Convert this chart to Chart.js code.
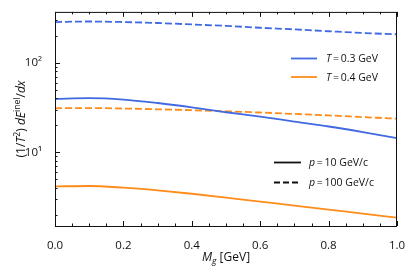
<!DOCTYPE html>
<html>
<head>
<meta charset="utf-8">
<script src="https://cdn.jsdelivr.net/npm/chart.js@4/dist/chart.umd.min.js"></script>
<style>
  html, body { margin: 0; padding: 0; background: #fff; }
  #wrap { width: 415px; height: 277px; }
</style>
</head>
<body>
<div id="wrap"><canvas id="chart" width="415" height="277"></canvas></div>
<script>
// gluon mass M_g (GeV)
const mg = [0.0, 0.1, 0.2, 0.3, 0.4, 0.5, 0.6, 0.7, 0.8, 0.9, 1.0];

// (1/T^2) dE/dx
const t03p10  = [39.5, 40.3, 38.8, 35.5, 31.8, 28.0, 25.0, 22.0, 19.4, 16.8, 14.4];
const t03p100 = [285, 289, 285, 278, 268, 258, 246, 236, 225, 215, 208];
const t04p10  = [4.15, 4.2, 4.02, 3.75, 3.44, 3.12, 2.81, 2.54, 2.29, 2.06, 1.86];
const t04p100 = [31.0, 31.2, 30.8, 30.2, 29.5, 28.7, 27.8, 26.8, 25.8, 24.7, 23.7];

const yTicks = [2, 3, 4, 5, 6, 7, 8, 9, 10, 20, 30, 40, 50, 60, 70, 80, 90, 100, 200, 300];
const yLabels = { 10: '10¹', 100: '10²' };
const xMajor = [0, 0.2, 0.4, 0.6, 0.8, 1.0];
const xMinor = [0.05, 0.1, 0.15, 0.25, 0.3, 0.35, 0.45, 0.5, 0.55, 0.65, 0.7, 0.75, 0.85, 0.9, 0.95];

const BLUE = '#4169e1';
const ORANGE = '#ff8c1a';
const FONT = '"Open Sans", "DejaVu Sans", sans-serif';

function pts(ys) {
    return mg.map((x, i) => ({ x: x, y: ys[i] }));
}

function line(ys, color, dashed) {
    return {
        data: pts(ys),
        borderColor: color,
        borderWidth: 1.8,
        borderDash: dashed ? [7, 3] : [],
        pointRadius: 0,
        fill: false,
        cubicInterpolationMode: 'monotone'
    };
}

// draw a run of text pieces (italic / superscript / subscript)
function drawRich(ctx, parts, x, y, size, align) {
    const fontOf = p => {
        const s = p.sup || p.sub ? size * 0.72 : size;
        return (p.i ? 'italic ' : '') + s + 'px ' + FONT;
    };
    let w = 0;
    parts.forEach(p => { ctx.font = fontOf(p); w += ctx.measureText(p.t).width; });
    let cx = align === 'center' ? x - w / 2 : x;
    ctx.textAlign = 'left';
    ctx.textBaseline = 'alphabetic';
    parts.forEach(p => {
        ctx.font = fontOf(p);
        let dy = 0;
        if (p.sup) dy = -size * 0.42;
        if (p.sub) dy = size * 0.25;
        ctx.fillText(p.t, cx, y + dy);
        cx += ctx.measureText(p.t).width;
    });
}

const decor = {
    id: 'decor',
    afterDraw(chart) {
        const ctx = chart.ctx;
        const a = chart.chartArea;
        const xs = chart.scales.x, ys = chart.scales.y;
        ctx.save();
        ctx.strokeStyle = '#111';
        ctx.lineWidth = 1;

        // frame
        ctx.strokeRect(a.left + 0.5, a.top + 0.5, a.right - a.left - 1, a.bottom - a.top);

        // inward ticks on bottom and top
        ctx.beginPath();
        xMajor.concat(xMinor).forEach(v => {
            const len = xMajor.includes(v) ? 5 : 2.5;
            const px = Math.round(xs.getPixelForValue(v)) + 0.5;
            ctx.moveTo(px, a.bottom); ctx.lineTo(px, a.bottom - len);
            ctx.moveTo(px, a.top); ctx.lineTo(px, a.top + len);
        });
        // inward ticks on the left
        yTicks.forEach(v => {
            const len = yLabels[v] ? 5 : 2.5;
            const py = Math.round(ys.getPixelForValue(v)) + 0.5;
            ctx.moveTo(a.left, py); ctx.lineTo(a.left + len, py);
        });
        ctx.stroke();

        ctx.fillStyle = '#111';

        // x title
        drawRich(ctx, [
            { t: 'M', i: true }, { t: 'g', i: true, sub: true }, { t: ' [GeV]' }
        ], (a.left + a.right) / 2, 261, 12, 'center');

        // y title
        ctx.save();
        ctx.translate(25, (a.top + a.bottom) / 2);
        ctx.rotate(-Math.PI / 2);
        drawRich(ctx, [
            { t: '(1/' }, { t: 'T', i: true }, { t: '2', sup: true }, { t: ') ' },
            { t: 'dE', i: true }, { t: 'inel', sup: true }, { t: '/' }, { t: 'dx', i: true }
        ], 0, 0, 12, 'center');
        ctx.restore();

        // legends
        const rows = [
            { y: 58.5, color: BLUE, dash: [], x0: 291, x1: 317, tx: 326, txt: [{ t: 'T', i: true }, { t: '\u2009=\u20090.3 GeV' }] },
            { y: 77, color: ORANGE, dash: [], x0: 291, x1: 317, tx: 326, txt: [{ t: 'T', i: true }, { t: '\u2009=\u20090.4 GeV' }] },
            { y: 162.5, color: '#111', dash: [], x0: 274, x1: 301, tx: 309, txt: [{ t: 'p', i: true }, { t: '\u2009=\u200910 GeV/c' }] },
            { y: 182.5, color: '#111', dash: [6, 3], x0: 274, x1: 301, tx: 309, txt: [{ t: 'p', i: true }, { t: '\u2009=\u2009100 GeV/c' }] }
        ];
        rows.forEach(r => {
            ctx.beginPath();
            ctx.strokeStyle = r.color;
            ctx.lineWidth = 1.8;
            ctx.setLineDash(r.dash);
            ctx.moveTo(r.x0, r.y); ctx.lineTo(r.x1, r.y);
            ctx.stroke();
            ctx.setLineDash([]);
            ctx.fillStyle = '#111';
            drawRich(ctx, r.txt, r.tx, r.y + 3.8, 10.5, 'left');
        });
        ctx.restore();
    }
};

new Chart(document.getElementById('chart'), {
    type: 'line',
    data: {
        datasets: [
            line(t03p100, BLUE, true),
            line(t03p10, BLUE, false),
            line(t04p100, ORANGE, true),
            line(t04p10, ORANGE, false)
        ]
    },
    options: {
        responsive: false,
        animation: false,
        layout: { padding: { left: 0, top: 10, right: 18, bottom: 0 } },
        plugins: { legend: { display: false }, tooltip: { enabled: false } },
        scales: {
            x: {
                type: 'linear',
                min: 0, max: 1,
                grid: { display: false },
                border: { display: false },
                ticks: {
                    stepSize: 0.2,
                    padding: 5,
                    color: '#111',
                    font: { family: FONT, size: 11.5 },
                    callback: v => v.toFixed(1)
                },
                afterFit: s => { s.height = 51; }
            },
            y: {
                type: 'logarithmic',
                min: 1.5, max: 370,
                grid: { display: false },
                border: { display: false },
                afterBuildTicks: s => { s.ticks = yTicks.map(v => ({ value: v })); },
                ticks: {
                    autoSkip: false,
                    padding: 5,
                    color: '#111',
                    font: { family: FONT, size: 11.5 },
                    callback: v => yLabels[v] || ''
                },
                afterFit: s => { s.width = 55; }
            }
        }
    },
    plugins: [decor]
});
</script>
</body>
</html>
